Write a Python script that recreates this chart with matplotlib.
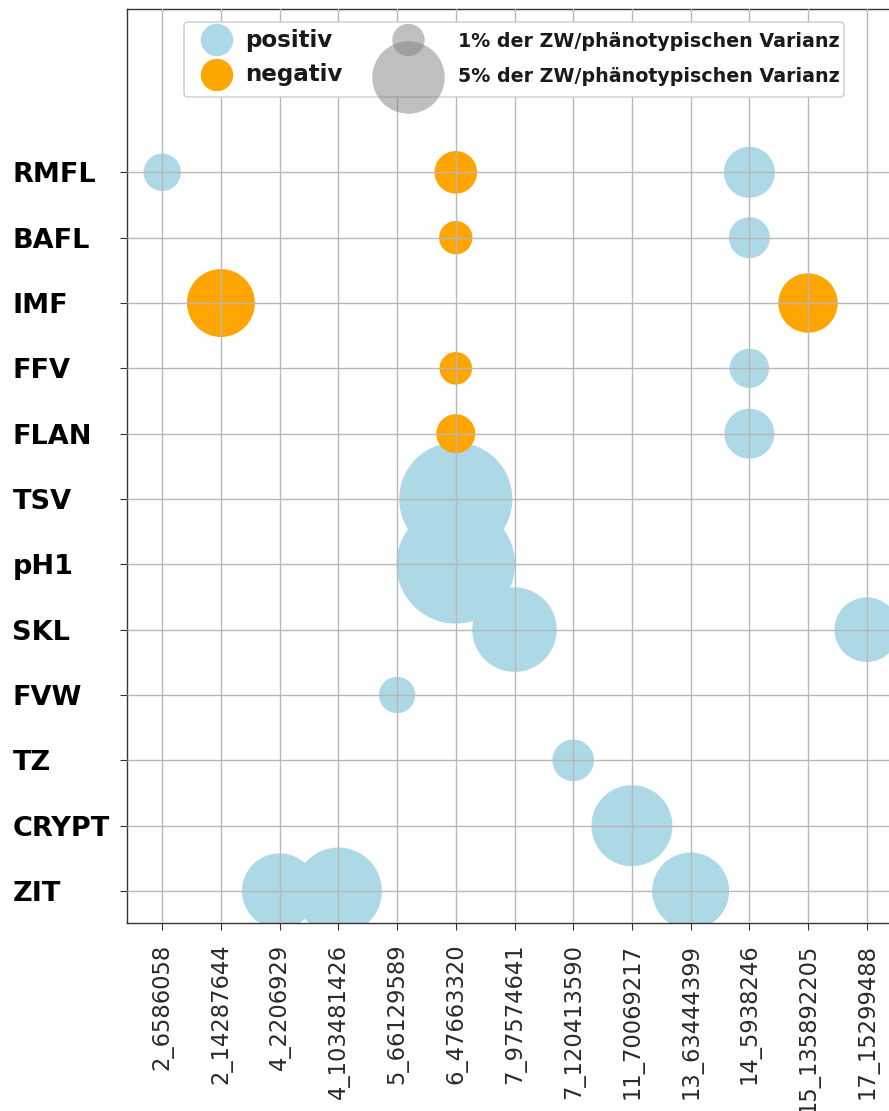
import matplotlib
matplotlib.use("Agg")
import matplotlib.pyplot as plt
from matplotlib.patches import FancyBboxPatch
import numpy as np

# ---- data ----
traits = ['RMFL', 'BAFL', 'IMF', 'FFV', 'FLAN', 'TSV', 'pH1', 'SKL', 'FVW', 'TZ', 'CRYPT', 'ZIT']
snps = ['2_6586058', '2_14287644', '4_2206929', '4_103481426', '5_66129589', '6_47663320',
        '7_97574641', '7_120413590', '11_70069217', '13_63444399', '14_5938246',
        '15_135892205', '17_15299488']

pt_trait = ['RMFL', 'RMFL', 'RMFL', 'BAFL', 'BAFL', 'IMF', 'IMF', 'FFV', 'FFV', 'FLAN', 'FLAN',
            'TSV', 'pH1', 'SKL', 'SKL', 'FVW', 'TZ', 'CRYPT', 'ZIT', 'ZIT', 'ZIT']
pt_snp = ['2_6586058', '6_47663320', '14_5938246', '6_47663320', '14_5938246', '2_14287644',
          '15_135892205', '6_47663320', '14_5938246', '6_47663320', '14_5938246', '6_47663320',
          '6_47663320', '7_97574641', '17_15299488', '5_66129589', '7_120413590', '11_70069217',
          '4_2206929', '4_103481426', '13_63444399']
pt_pct = [1.33, 1.73, 2.48, 1.06, 1.60, 4.40, 3.36, 1.01, 1.48, 1.45, 2.38,
          12.2, 13.4, 6.8, 3.98, 1.26, 1.65, 6.25, 5.42, 7.21, 5.65]
pt_sign = ['pos', 'neg', 'pos', 'neg', 'pos', 'neg', 'neg', 'neg', 'pos', 'neg', 'pos',
           'pos', 'pos', 'pos', 'pos', 'pos', 'pos', 'pos', 'pos', 'pos', 'pos']

legend_labels = ['positiv', 'negativ']
size_labels = ['1% der ZW/phänotypischen Varianz', '5% der ZW/phänotypischen Varianz']
size_values = [1, 5]

# ---- style ----
W, H = 889, 1111
DPI = 100
S_PER_PCT = 544.0  # points^2 per percent
C_POS = '#ADD8E6'
C_NEG = '#FFA500'

fig = plt.figure(figsize=(W / DPI, H / DPI), dpi=DPI)
ax = fig.add_axes([127 / W, (H - 922.7) / H, 775 / W, (922.7 - 9) / H])

x_idx = {s: i for i, s in enumerate(snps)}
y_idx = {t: len(traits) - 1 - i for i, t in enumerate(traits)}

for sign, col in [('pos', C_POS), ('neg', C_NEG)]:
    xs = [x_idx[s] for s, g in zip(pt_snp, pt_sign) if g == sign]
    ys = [y_idx[t] for t, g in zip(pt_trait, pt_sign) if g == sign]
    ss = [p * S_PER_PCT for p, g in zip(pt_pct, pt_sign) if g == sign]
    ax.scatter(xs, ys, s=ss, c=col, linewidths=0, zorder=1)

ax.set_xlim(-0.6, len(snps) - 1 + 0.6)
ax.set_ylim(-0.485, 13.5)
ax.set_xticks(range(len(snps)))
ax.set_xticklabels(snps, rotation=90, fontsize=16.3, color='#2a2a2a', va='top', ha='center')
ax.set_yticks([y_idx[t] for t in traits])
ax.set_yticklabels(traits, fontsize=19.5, fontweight='bold', color='black', ha='left')
ax.tick_params(axis='y', pad=77.5, length=5, color='#333333')
ax.tick_params(axis='x', pad=10, length=5, color='#333333')
ax.set_axisbelow(False)
ax.grid(True, color='#b8b8b8', linewidth=1.0)
for sp in ['left', 'bottom', 'top']:
    ax.spines[sp].set_color('#333333')
    ax.spines[sp].set_linewidth(1.0)
ax.spines['right'].set_visible(False)

# ---- legend (overlay in pixel coordinates) ----
ov = fig.add_axes([0, 0, 1, 1], zorder=10)
ov.set_xlim(0, W)
ov.set_ylim(H, 0)
ov.axis('off')
box = FancyBboxPatch((184, 22), 660, 75, boxstyle='round,pad=0,rounding_size=4',
                     facecolor='white', edgecolor='#cccccc', linewidth=1.0, alpha=1.0)
ov.add_patch(box)
ov.scatter([217, 217], [40, 75], s=[S_PER_PCT, S_PER_PCT], c=[C_POS, C_NEG], linewidths=0)
for lab, yy in zip(legend_labels, [40, 75]):
    ov.text(245, yy, lab, fontsize=16.6, fontweight='bold', color='#1a1a1a', va='center', ha='left')
ov.scatter([408.5, 408.5], [77.5, 40], s=[v * S_PER_PCT for v in size_values[::-1]],
           c='grey', alpha=0.5, linewidths=0)
for lab, yy in zip(size_labels, [41.5, 76.5]):
    ov.text(458, yy, lab, fontsize=13.65, fontweight='bold', color='#1a1a1a', va='center', ha='left')

fig.savefig('out.png', dpi=DPI)
